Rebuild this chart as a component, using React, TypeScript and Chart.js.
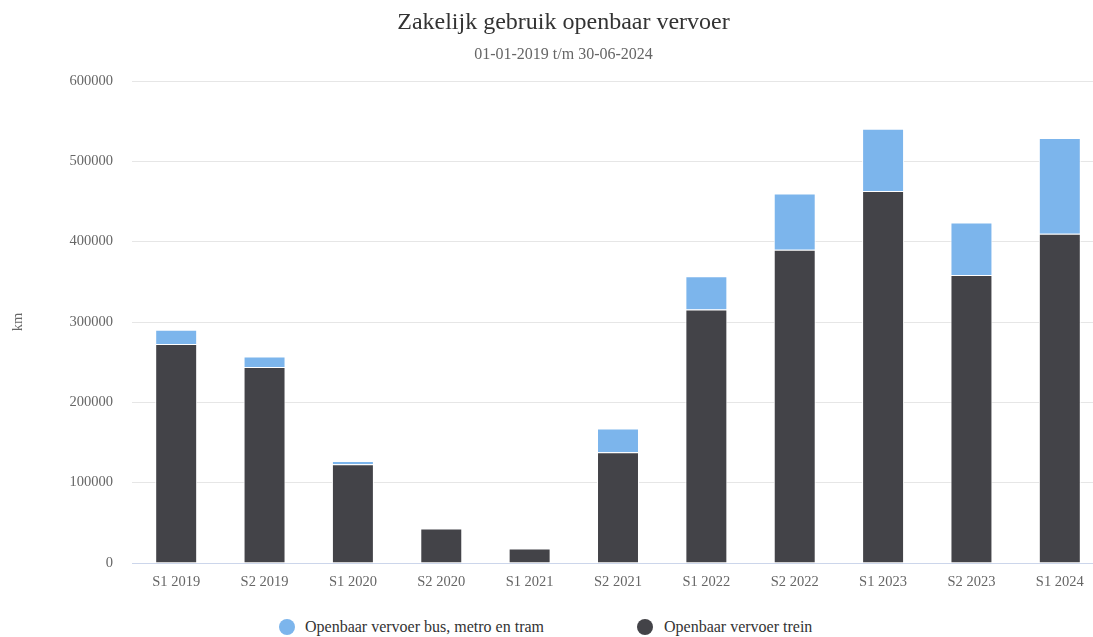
import React, { useEffect, useRef } from "react";
import { Chart, registerables } from "chart.js";

Chart.register(...registerables);

const categories = [
  "S1 2019", "S2 2019", "S1 2020", "S2 2020", "S1 2021", "S2 2021",
  "S1 2022", "S2 2022", "S1 2023", "S2 2023", "S1 2024",
];
const treinValues = [272500, 244000, 123000, 43000, 18000, 138000, 315500, 390000, 463000, 358500, 410000];
const busValues = [18000, 13000, 4000, 0, 0, 29500, 41500, 70000, 77500, 65500, 119000];
const yTickValues = [0, 100000, 200000, 300000, 400000, 500000, 600000];

const titleText = "Zakelijk gebruik openbaar vervoer";
const subtitleText = "01-01-2019 t/m 30-06-2024";
const yAxisTitle = "km";
const busLabel = "Openbaar vervoer bus, metro en tram";
const treinLabel = "Openbaar vervoer trein";

const BUS_COLOR = "#7cb5ec";
const TREIN_COLOR = "#434348";
const FONT = '"Liberation Serif", "Times New Roman", serif';

export default function App() {
  const canvasRef = useRef<HTMLCanvasElement | null>(null);

  useEffect(() => {
    if (!canvasRef.current) return;
    const chart = new Chart(canvasRef.current, {
      type: "bar",
      data: {
        labels: categories,
        datasets: [
          {
            label: treinLabel,
            data: treinValues,
            backgroundColor: TREIN_COLOR,
            borderColor: "#ffffff",
            borderWidth: 1,
          },
          {
            label: busLabel,
            data: busValues,
            backgroundColor: BUS_COLOR,
            borderColor: "#ffffff",
            borderWidth: 1,
          },
        ],
      },
      options: {
        responsive: false,
        animation: false,
        layout: { padding: { left: 0, right: 0, top: 0, bottom: 0 } },
        datasets: {
          bar: { categoryPercentage: 1, barPercentage: 0.475 },
        },
        plugins: {
          legend: { display: false },
          tooltip: { enabled: false },
          title: {
            display: true,
            text: titleText,
            color: "#333333",
            font: { family: FONT, size: 24, weight: "normal" },
            padding: { top: 8, bottom: 8.6 },
          },
          subtitle: {
            display: true,
            text: subtitleText,
            color: "#666666",
            font: { family: FONT, size: 16, weight: "normal" },
            padding: { top: 0, bottom: 16.4 },
          },
        },
        scales: {
          x: {
            stacked: true,
            grid: { display: false, drawTicks: false },
            border: { display: true, color: "#ccd6eb", width: 1 },
            ticks: {
              color: "#666666",
              font: { family: FONT, size: 14.5 },
              padding: 10,
              maxRotation: 0,
              autoSkip: false,
            },
            afterFit: (scale: any) => {
              scale.height = 37;
            },
          },
          y: {
            stacked: true,
            min: 0,
            max: 600000,
            afterBuildTicks: (scale: any) => {
              scale.ticks = yTickValues.map((v) => ({ value: v }));
            },
            grid: {
              drawTicks: false,
              color: (ctx: any) => (ctx.tick && ctx.tick.value === 0 ? "#ccd6eb" : "#e6e6e6"),
            },
            border: { display: false },
            ticks: {
              color: "#666666",
              font: { family: FONT, size: 14.5 },
              padding: 19,
              callback: (v: any) => String(v),
            },
            title: {
              display: true,
              text: yAxisTitle,
              color: "#666666",
              font: { family: FONT, size: 14.5 },
              padding: { top: 9, bottom: 0 },
            },
            afterFit: (scale: any) => {
              scale.width = 132;
            },
          },
          yRight: {
            position: "right",
            display: true,
            min: 0,
            max: 1,
            grid: { display: false, drawTicks: false },
            border: { display: false },
            ticks: { display: false },
            afterFit: (scale: any) => {
              scale.width = 23;
            },
          },
        },
      },
    });
    return () => chart.destroy();
  }, []);

  const legendText: React.CSSProperties = {
    position: "absolute",
    fontFamily: FONT,
    fontSize: 16,
    color: "#333333",
    whiteSpace: "nowrap",
    lineHeight: "20px",
  };
  const dot = (color: string): React.CSSProperties => ({
    position: "absolute",
    width: 16,
    height: 16,
    borderRadius: "50%",
    background: color,
  });

  return (
    <div
      style={{
        position: "absolute",
        left: 0,
        top: 0,
        width: 1093,
        height: 637,
        overflow: "hidden",
        background: "#ffffff",
      }}
    >
      <canvas ref={canvasRef} width={1127} height={600} style={{ position: "absolute", left: 0, top: 0 }} />
      <div style={{ ...dot(BUS_COLOR), left: 279, top: 619 }} />
      <div style={{ ...legendText, left: 305, top: 617 }}>{busLabel}</div>
      <div style={{ ...dot(TREIN_COLOR), left: 637, top: 619 }} />
      <div style={{ ...legendText, left: 664, top: 617 }}>{treinLabel}</div>
    </div>
  );
}
